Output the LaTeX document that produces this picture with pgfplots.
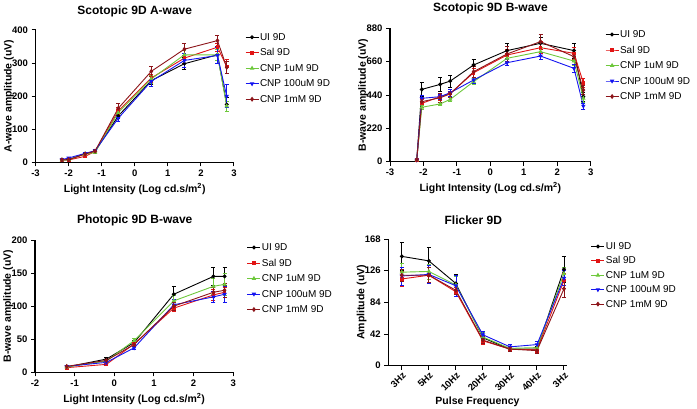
\documentclass[border=0pt]{standalone}
\usepackage{fontspec}
\setmainfont{Liberation Sans}
\usepackage{pgfplots}
\usepackage{pgfplotstable}
\pgfplotsset{compat=1.18}

\definecolor{cUI}{RGB}{0,0,0}
\definecolor{cSal}{RGB}{225,20,20}
\definecolor{cG}{RGB}{110,200,60}
\definecolor{cB}{RGB}{20,20,240}
\definecolor{cDR}{RGB}{140,20,25}

% scotopic a-wave
\pgfplotstableread{
x     ui  uie sal sale g   ge  b   be  dr  dre
-2.2  8   3   8   3    7   3   8   3   7   3
-2.0  8   3   7   3    8   3   13  3   8   3
-1.5  26  4   18  4    25  3   27  3   25  3
-1.2  33  4   33  4    30  4   35  3   34  4
-0.5  140 8   155 10   150 8   133 8   163 14
0.5   247 12  255 12   252 12  245 15  275 15
1.5   298 18  315 15   325 12  308 20  342 18
2.5   325 18  348 12   325 18  323 25  368 17
2.78  175 20  290 20   170 15  200 35  287 18
}\awave

% scotopic b-wave
\pgfplotstableread{
x     ui  uie sal sale g   ge  b   be  dr  dre
-2.2  12  5   12  5    12  5   12  5   12  5
-2.05 477 45  385 25   359 15  418 20  396 20
-1.5  510 45  429 25   381 12  429 15  422 30
-1.2  532 40  451 25   411 12  455 25  447 20
-0.5  638 40  587 30   528 20  539 20  594 35
0.5   733 50  704 40   682 25  653 20  711 50
1.5   781 40  752 40   726 30  697 25  792 50
2.5   733 50  715 40   664 30  616 25  693 30
2.78  429 30  521 30   418 25  367 20  473 30
}\bwave

% photopic b-wave
\pgfplotstableread{
x     ui  uie sal sale g   ge  b   be  dr  dre
-1.2  8   2   7   2    8   2   9   2   9   2
-0.2  20  2   12  2    17  2   15  3   18  2
0.5   45  3   43  3    48  3   37  3   42  3
1.5   118 12  97  5    108 8   102 8   100 6
2.5   145 13  117 8    130 12  114 8   121 8
2.78  145 14  121 8    133 16  118 12  124 10
}\photo

% flicker
\pgfplotstableread{
x  ui  uie sal sale g   ge  b   be  dr  dre
0  145 18  115 10   124 12  119 12  120 8
1  139 18  120 10   125 10  121 12  120 10
2  109 12  98  6    107 12  106 14  100 6
3  37  8   33  5    38  6   41  5   34  5
4  22  3   22  3    23  3   25  3   22  3
5  22  4   21  3    24  4   28  4   20  4
6  128 17  113 10   122 8   116 10  102 12
}\flick

\pgfplotsset{
  erg/.style={
    scale only axis, clip=false,
    axis x line*=bottom, axis y line*=left,
    axis line style={line width=1.1pt,-},
    tick align=outside, major tick length=4pt,
    tick style={line width=1pt, black},
    ticklabel style={font=\bfseries\fontsize{9.5}{11}\selectfont},
    /pgf/number format/assume math mode=true,
    label style={font=\bfseries\fontsize{10.5}{12}\selectfont},
    legend style={draw=none, fill=none, anchor=north west, inner sep=0pt,
      font=\fontsize{10}{12}\selectfont, row sep=3.5pt,
      nodes={inner sep=1pt, text height=8pt, text depth=2pt}},
    legend cell align=left,
    legend image code/.code={\draw[##1,mark repeat=2,mark phase=2]
      plot coordinates {(0pt,0pt)(6.5pt,0pt)(13pt,0pt)};},
  },
  ebar/.style={error bars/.cd, y dir=both, y explicit,
    error bar style={line width=0.7pt},
    error mark options={rotate=90, mark size=2pt, line width=0.7pt}},
  sUI/.style={color=cUI, mark=*, line width=0.9pt, mark size=1.5pt, ebar},
  sSal/.style={color=cSal, mark=square*, line width=0.9pt, mark size=1.3pt, ebar},
  sG/.style={color=cG, mark=triangle*, line width=0.9pt, mark size=1.7pt, ebar},
  sB/.style={color=cB, mark=triangle*, mark options={rotate=180}, line width=0.9pt, mark size=1.7pt, ebar},
  sDR/.style={color=cDR, mark=diamond*, line width=0.9pt, mark size=1.8pt, ebar},
}

\newcommand{\series}[1]{%
  \addplot[sUI] table[x=x,y=ui,y error=uie]{#1};
  \addplot[sSal] table[x=x,y=sal,y error=sale]{#1};
  \addplot[sG] table[x=x,y=g,y error=ge]{#1};
  \addplot[sB] table[x=x,y=b,y error=be]{#1};
  \addplot[sDR] table[x=x,y=dr,y error=dre]{#1};
  \legend{UI 9D,Sal 9D,CNP 1uM 9D,CNP 100uM 9D,CNP 1mM 9D}%
}

\begin{document}
\begin{tikzpicture}
\useasboundingbox (0,0) rectangle (697pt,408pt);

\begin{axis}[erg, at={(35.5pt,245.7pt)}, anchor=south west,
  width=198.5pt, height=132.3pt,
  xmin=-3, xmax=3, ymin=0, ymax=400,
  xtick={-3,...,3}, ytick={0,100,200,300,400},
  xlabel={Light Intensity (Log cd.s/m\textsuperscript{2})},
  ylabel={A-wave amplitude (uV)},
  ylabel style={at={(axis description cs:-0.1335,0.5)}, anchor=center},
  legend style={at={(1.055,0.992)}}]
\series{\awave}
\end{axis}

\begin{axis}[erg, at={(390pt,246.3pt)}, anchor=south west,
  width=200.7pt, height=133.4pt,
  xmin=-3, xmax=3, ymin=0, ymax=880,
  xtick={-3,...,3}, ytick={0,220,440,660,880},
  xlabel={Light Intensity (Log cd.s/m\textsuperscript{2})},
  ylabel={B-wave amplitude (uV)},
  ylabel style={at={(axis description cs:-0.134,0.5)}, anchor=center},
  legend style={at={(1.071,1.0)}}]
\series{\bwave}
\end{axis}

\begin{axis}[erg, at={(35pt,35.7pt)}, anchor=south west,
  width=198.3pt, height=132.3pt,
  xmin=-2, xmax=3, ymin=0, ymax=200,
  xtick={-2,...,3}, ytick={0,50,100,150,200},
  xlabel={Light Intensity (Log cd.s/m\textsuperscript{2})},
  ylabel={B-wave amplitude (uV)},
  ylabel style={at={(axis description cs:-0.135,0.5)}, anchor=center},
  legend style={at={(1.068,0.99)}}]
\series{\photo}
\end{axis}

\begin{axis}[erg, at={(388.3pt,42.3pt)}, anchor=south west,
  width=178.4pt, height=126.7pt,
  xmin=-0.5, xmax=6.1, ymin=0, ymax=168,
  xtick={0,...,6}, ytick={0,42,84,126,168},
  xticklabels={3Hz,5Hz,10Hz,20Hz,30Hz,40Hz,3Hz},
  x tick label style={rotate=45, anchor=north east, inner sep=1pt},
  xlabel={Pulse Frequency},
  ylabel={Amplitude (uV)},
  ylabel style={at={(axis description cs:-0.149,0.5)}, anchor=center},
  legend style={at={(1.135,0.99)}, row sep=2.4pt}]
\series{\flick}
\end{axis}

\begin{scope}[every node/.style={font=\bfseries\fontsize{12}{14}\selectfont}]
\node at (134.7pt,397pt) {Scotopic 9D A-wave};
\node at (490.5pt,399.7pt) {Scotopic 9D B-wave};
\node at (134.7pt,187.3pt) {Photopic 9D B-wave};
\node at (473.3pt,187.3pt) {Flicker 9D};
\end{scope}
\end{tikzpicture}
\end{document}
